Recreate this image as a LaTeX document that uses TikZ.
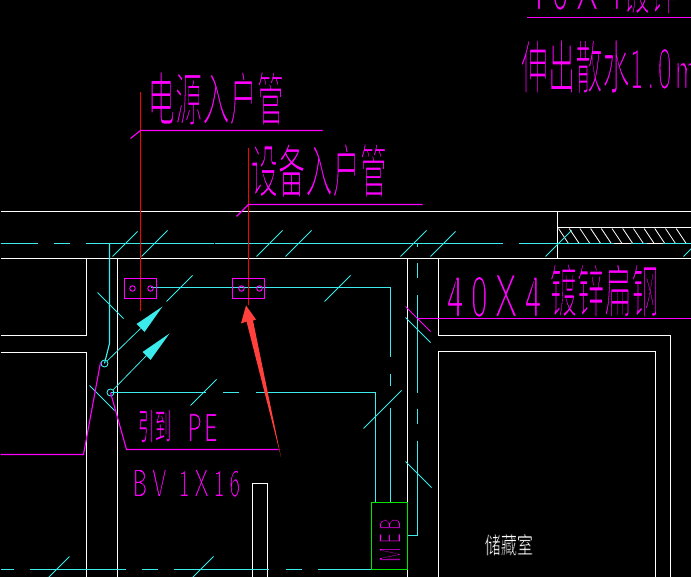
\documentclass[tikz,border=0pt]{standalone}
\usepackage{fontspec}
\newfontfamily\cjk[FakeStretch=0.47]{Noto Sans CJK SC}
\newfontfamily\cjkwide[FakeStretch=0.7]{Noto Sans CJK SC}
\newfontfamily\cad[FakeStretch=0.6,LetterSpace=12]{Latin Modern Sans}
\newfontfamily\cadb[FakeStretch=0.6,LetterSpace=5]{Latin Modern Sans}
\newfontfamily\cadc[FakeStretch=0.5,LetterSpace=5]{Latin Modern Sans}
\definecolor{cadcyan}{RGB}{60,235,235}
\definecolor{cadmag}{RGB}{255,0,255}
\definecolor{cadred}{RGB}{255,0,0}
\definecolor{cadgreen}{RGB}{0,230,0}
\definecolor{markred}{RGB}{255,64,60}
\newcommand{\thin}[2]{\special{pdf:code q 2 Tr 0 0 0 RG #1 w}#2\special{pdf:code Q}}
\tikzstyle{wall} = [draw=white, line width=1.1pt]
\tikzstyle{wire} = [draw=cadcyan, line width=1.1pt]
\tikzstyle{tick} = [draw=cadcyan, line width=0.8pt]
\tikzstyle{lead} = [draw=cadmag, line width=1.1pt]
\tikzstyle{socket} = [rectangle, draw=cadmag, line width=1.1pt, minimum width=32pt, minimum height=20pt, inner sep=0pt]
\tikzstyle{hole} = [circle, draw=cadmag, line width=0.9pt, minimum size=5.5pt, inner sep=0pt]
\tikzstyle{ring} = [circle, draw=cadcyan, line width=0.9pt, minimum size=7pt, inner sep=0pt]
\tikzstyle{label} = [text=cadmag, inner sep=0pt, anchor=base west]
\begin{document}
\begin{tikzpicture}[x=1pt, y=-1pt]
\useasboundingbox (0,0) rectangle (691,577);
\fill[black] (0,0) rectangle (691,577);
\clip (0,0) rectangle (691,577);
\begin{scope}[shift={(0.5,0.5)}]

% texts first, the lines run over them
\node (top) [label] at (527,9) {\thin{1.2}{\cad\fontsize{60}{60}\selectfont 40X4\cjk\fontsize{58}{58}\selectfont 镀锌}};
\node (spread) [label] at (520,88) {\thin{1.2}{\cjk\fontsize{58}{58}\selectfont 伸出散水\cadc\fontsize{60}{60}\selectfont 1.0m}};
\node (power) [label] at (147,120) {\thin{1.2}{\cjk\fontsize{58}{58}\selectfont 电源入户管}};
\node (equip) [label] at (250,192) {\thin{1.2}{\cjk\fontsize{58}{58}\selectfont 设备入户管}};
\node (flat) [label] at (446,316) {\thin{1.2}{\cad\fontsize{60}{60}\selectfont 40X4}};
\node (steel) [label] at (549,312) {\thin{1.2}{\cjk\fontsize{58}{58}\selectfont 镀锌扁钢}};
\node (lead) [label] at (137,439) {\thin{0.5}{\cjk\fontsize{36}{36}\selectfont 引到}};
\node (pe) [label] at (187,441) {\thin{0.8}{\cadb\fontsize{40}{40}\selectfont PE}};
\node (bv) [label] at (132,496) {\thin{0.8}{\cad\fontsize{39}{39}\selectfont BV 1X16}};
\node (store) [label, text=white] at (484,553) {\thin{0.3}{\cjkwide\fontsize{23}{23}\selectfont 储藏室}};

% walls
\draw[wall] (0,211) -- (691,211);
\draw[wall] (0,258) -- (691,258);
\draw[wall] (557,211) -- (557,258);
\draw[wall] (557,227) -- (691,227);
\draw[wall] (557,243) -- (691,243);
\foreach \x in {558,568.7,...,680}
  \draw[draw=white, line width=0.8pt] (\x,228) -- (\x+10,243);
\draw[wall] (0,335) -- (86,335) -- (86,258);
\draw[wall] (0,352) -- (86,352) -- (86,577);
\draw[wall] (117,258) -- (117,577);
\draw[wall] (407,258) -- (407,577);
\draw[wall] (438,258) -- (438,335) -- (670,335) -- (670,577);
\draw[wall] (438,577) -- (438,351) -- (655,351) -- (655,577);
\draw[wall] (252,577) -- (252,483) -- (267,483) -- (267,577);

% cyan runs
\foreach \a/\b in {0/37,53/69,85/213,214/502,518/613,630/646,662/691}
  \draw[wire] (\a,243) -- (\b,243);
\foreach \a/\b in {0/13,29/125,141/157,173/268,285/301,317/371}
  \draw[wire] (\a,569) -- (\b,569);
\foreach \a/\b in {243/247,263/278,295/392,408/423,440/535}
  \draw[wire] (417,\a) -- (417,\b);
\foreach \a/\b in {287/357,374/385,407/502}
  \draw[wire] (390,\a) -- (390,\b);
\draw[wire] (150,287) -- (390,287);
\draw[wire] (407,535) -- (417,535);
\draw[wire] (109,243) -- (109,343) -- (104,363);
\draw[wire] (110,392) -- (205,392);
\draw[wire] (222,392) -- (238,392);
\draw[wire] (255,392) -- (375,392) -- (375,502);

% ticks
\foreach \a/\b/\c/\d in {112/256/137/231,141/256/167/230,256/256/282/230,285/256/311/230,400/256/426/230,430/256/455/231,545/256/571/230,683/256/691/248,166/301/192/275,97/292/123/318,190/405/216/379,89/385/114/410,324/301/350/275,405/317/430/342,363/428/401/390,405/461/431/487,48/577/69/556,192/577/213/556}
  \draw[tick] (\a,\b) -- (\c,\d);
\draw[draw=cadmag, line width=0.8pt] (405,306) -- (430,331);

% red risers
\draw[draw=cadred, line width=1.1pt] (140,92) -- (140,311);
\draw[draw=cadred, line width=1.1pt] (248,148) -- (248,305);

% sockets
\node (sock1) [socket] at (140,288) {};
\node (sock2) [socket] at (248,288) {};
\node (h1) [hole] at (132,288) {};
\node (h2) [hole] at (150,288) {};
\node (h3) [hole] at (241,288) {};
\node (h4) [hole] at (259,288) {};

% leaders with their heads
\node (ring1) [ring] at (104,363) {};
\node (ring2) [ring] at (110,392) {};
\draw[tick] (ring1) -- (140,328);
\draw[tick] (ring2) -- (146,355);
\fill[cadcyan] (162,306) -- (136,323.5) -- (144,331.5) -- cycle;
\fill[cadcyan] (169,333) -- (142,351.5) -- (150,359.5) -- cycle;

% magenta leaders
\draw[lead] (130,138) -- (140,130) -- (322,130);
\draw[lead] (236,216) -- (248,204) -- (422,204);
\draw[lead] (526,17) -- (691,17);
\draw[lead] (417,318) -- (691,318);
\draw[lead] (0,454) -- (83,454) -- (100,362);
\draw[lead] (ring2.center) -- (126,449) -- (278,449);

% earth bar box
\node (meb) [rectangle, draw=cadgreen, line width=1.1pt, minimum width=36pt, minimum height=67pt, inner sep=0pt] at (389,535.5) {};
\node (mebtext) [text=cadmag, inner sep=0pt, rotate=90] at (389.5,539.5) {\thin{0.7}{\cad\fontsize{30}{30}\selectfont MEB}};

% red pointer
\fill[markred] (280.5,456.5) -- (252.5,320) -- (255.5,319) -- (245.5,305) -- (240.5,323) -- (246,321) -- cycle;
\end{scope}
\end{tikzpicture}
\end{document}
